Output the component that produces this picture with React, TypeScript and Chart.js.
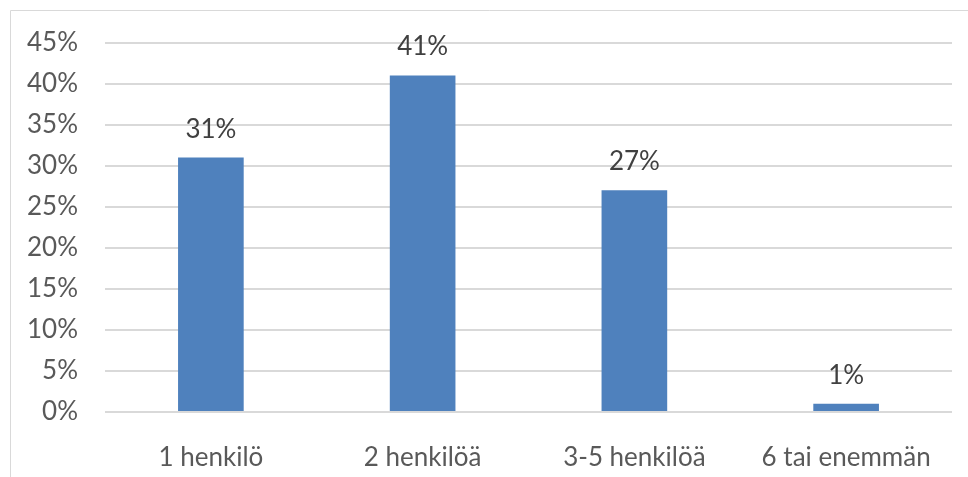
import React, { useEffect, useRef } from "react";
import { Chart, registerables } from "chart.js";

Chart.register(...registerables);

const categories = ["1 henkilö", "2 henkilöä", "3-5 henkilöä", "6 tai enemmän"];
const values = [31, 41, 27, 1];
const yMax = 45;
const yStep = 5;

const FONT = "Lato, 'Open Sans', sans-serif";
const FS = 26;

const framePlugin = {
  id: "frame",
  afterDraw(chart: any) {
    const ctx = chart.ctx;
    ctx.save();
    ctx.strokeStyle = "#d9d9d9";
    ctx.lineWidth = 1;
    ctx.beginPath();
    ctx.moveTo(10.5, chart.height);
    ctx.lineTo(10.5, 10.5);
    ctx.lineTo(chart.width, 10.5);
    ctx.stroke();
    ctx.restore();
  },
};

const labelPlugin = {
  id: "barLabels",
  afterDatasetsDraw(chart: any) {
    const ctx = chart.ctx;
    const meta = chart.getDatasetMeta(0);
    ctx.save();
    ctx.fillStyle = "#404040";
    ctx.font = `${FS}px ${FONT}`;
    ctx.textAlign = "center";
    ctx.textBaseline = "alphabetic";
    meta.data.forEach((bar: any, i: number) => {
      ctx.fillText(values[i] + "%", bar.x, bar.y - 20);
    });
    ctx.restore();
  },
};

export default function App() {
  const ref = useRef<HTMLCanvasElement>(null);
  useEffect(() => {
    document.body.style.margin = "0";
    const chart = new Chart(ref.current!, {
      type: "bar",
      data: {
        labels: categories,
        datasets: [
          {
            data: values,
            backgroundColor: "#4f81bd",
            barPercentage: 0.62,
            categoryPercentage: 0.5,
          },
        ],
      },
      options: {
        responsive: false,
        animation: false,
        layout: { padding: { left: 0, right: 16, top: 32, bottom: 0 } },
        plugins: { legend: { display: false }, tooltip: { enabled: false } },
        scales: {
          x: {
            grid: { display: false },
            border: { display: false },
            ticks: {
              color: "#595959",
              font: { family: FONT, size: FS },
              padding: 22,
              maxRotation: 0,
            },
            afterFit(scale: any) {
              scale.height = 65;
            },
          },
          y: {
            min: 0,
            max: yMax,
            border: { display: false },
            grid: { color: "#d9d9d9", lineWidth: 2, drawTicks: false },
            ticks: {
              stepSize: yStep,
              color: "#595959",
              font: { family: FONT, size: FS },
              padding: 27,
              callback: (v: any) => v + "%",
            },
            afterFit(scale: any) {
              scale.width = 105;
            },
          },
        },
      },
      plugins: [framePlugin, labelPlugin],
    });
    return () => chart.destroy();
  }, []);
  return (
    <div style={{ position: "absolute", left: 0, top: 0, width: 968, height: 477, background: "#fff" }}>
      <canvas ref={ref} width={968} height={477} />
    </div>
  );
}
